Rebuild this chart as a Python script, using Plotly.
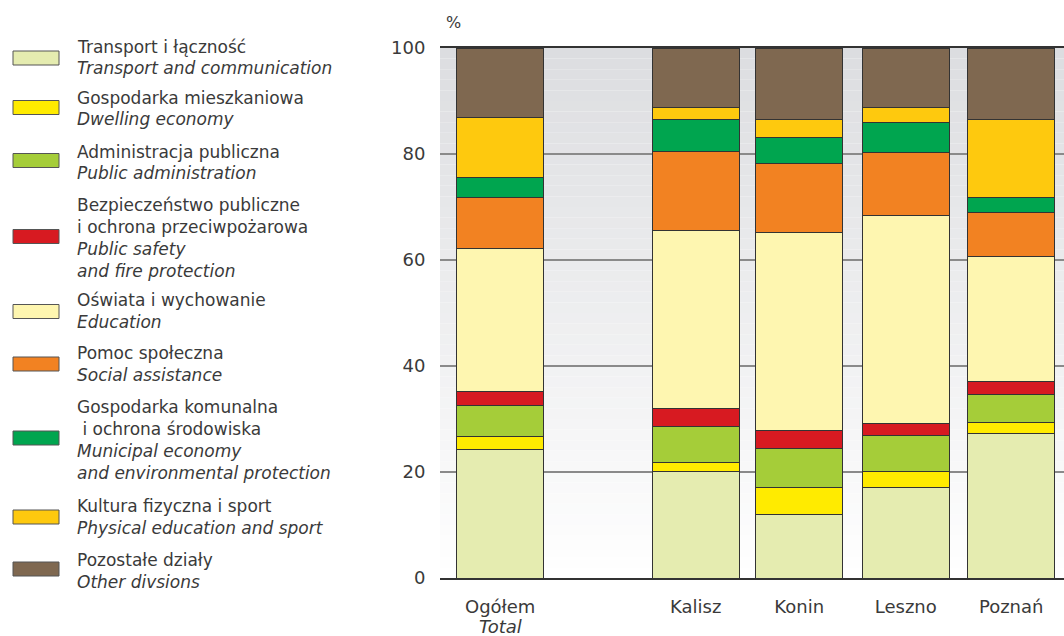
import plotly.graph_objects as go

# ---------------- data ----------------
categories = ["Ogółem", "Kalisz", "Konin", "Leszno", "Poznań"]
total_en = "Total"

series_pl = [
    "Transport i łączność",
    "Gospodarka mieszkaniowa",
    "Administracja publiczna",
    "Bezpieczeństwo publiczne<br>i ochrona przeciwpożarowa",
    "Oświata i wychowanie",
    "Pomoc społeczna",
    "Gospodarka komunalna<br> i ochrona środowiska",
    "Kultura fizyczna i sport",
    "Pozostałe działy",
]
series_en = [
    "Transport and communication",
    "Dwelling economy",
    "Public administration",
    "Public safety<br>and fire protection",
    "Education",
    "Social assistance",
    "Municipal economy<br>and environmental protection",
    "Physical education and sport",
    "Other divsions",
]

transport = [24.2, 20.1, 12.0, 17.0, 27.2]
dwelling = [2.5, 1.7, 5.0, 3.1, 2.2]
administration = [5.8, 6.8, 7.4, 6.7, 5.2]
safety = [2.6, 3.4, 3.5, 2.4, 2.4]
education = [27.0, 33.5, 37.3, 39.2, 23.6]
social = [9.7, 15.0, 13.0, 11.9, 8.3]
municipal = [3.7, 6.0, 5.0, 5.6, 2.9]
sport = [11.4, 2.2, 3.4, 2.9, 14.7]
other = [13.1, 11.3, 13.4, 11.2, 13.5]

y_ticks = [0, 20, 40, 60, 80, 100]

# ---------------- styling ----------------
values = [transport, dwelling, administration, safety, education, social, municipal, sport, other]
colors = ["#e5ecb0", "#ffeb00", "#a5cd39", "#d71a21", "#fef6b0",
          "#f28222", "#00a54f", "#fec90e", "#7f6850"]

x_pos = [0, 1.862, 2.848, 3.863, 4.867]
bar_w = 0.83
FONT = "DejaVu Sans"
TXT = "#3a3a3a"

W, H = 1064, 636
ML, MR, MT, MB = 440, 0, 48, 58
PW, PH = W - ML - MR, H - MT - MB


def px_x(px):
    return (px - ML) / PW


def px_y(py):
    return (H - MB - py) / PH


fig = go.Figure()
for i, vals in enumerate(values):
    fig.add_trace(go.Bar(
        x=x_pos, y=vals, width=bar_w,
        name=series_pl[i],
        marker=dict(color=colors[i], line=dict(color="#333333", width=1)),
        showlegend=False,
        hovertemplate="%{y}<extra></extra>",
    ))

shapes = []
# vertical gradient background (light grey at top to white at bottom)
n_strips = 50
top = (220, 221, 224)
for k in range(n_strips):
    t = (k + 0.5) / n_strips
    r = round(255 + (top[0] - 255) * t)
    g = round(255 + (top[1] - 255) * t)
    b = round(255 + (top[2] - 255) * t)
    shapes.append(dict(type="rect", xref="paper", yref="y", x0=0, x1=1,
                       y0=100 * k / n_strips, y1=100 * (k + 1) / n_strips,
                       fillcolor=f"rgb({r},{g},{b})", line=dict(width=0),
                       layer="below"))

# custom legend
legend_rect_y = [58, 107.5, 160.5, 236.5, 311.5, 364, 438, 517, 569]
legend_lines_y = [
    [46.5, 67.5], [98, 118.5], [151.5, 172.5], [205, 227, 249, 270.5],
    [299.5, 322], [353, 375], [407, 429, 451, 473], [506, 528], [560, 582],
]
annotations = []
for i in range(len(series_pl)):
    cy = legend_rect_y[i]
    shapes.append(dict(type="rect", xref="paper", yref="paper",
                       x0=px_x(13), x1=px_x(59), y0=px_y(cy - 7), y1=px_y(cy + 7),
                       fillcolor=colors[i], line=dict(color="#555555", width=1)))
    lines = [(s, False) for s in series_pl[i].split("<br>")] + \
            [(s, True) for s in series_en[i].split("<br>")]
    for (txt, ital), ly in zip(lines, legend_lines_y[i]):
        annotations.append(dict(
            xref="paper", yref="paper", x=px_x(75), y=px_y(ly),
            xanchor="left", yanchor="middle", showarrow=False,
            text=f"<i>{txt}</i>" if ital else txt,
            font=dict(family=FONT, size=17, color=TXT)))

annotations.append(dict(xref="paper", yref="paper", x=px_x(453), y=px_y(22),
                        xanchor="center", yanchor="middle", showarrow=False,
                        text="%", font=dict(family=FONT, size=16, color=TXT)))
# English subtitle under the "Ogółem" category label
annotations.append(dict(xref="x", yref="paper", x=x_pos[0], y=px_y(626),
                        xanchor="center", yanchor="middle", showarrow=False,
                        text=f"<i>{total_en}</i>",
                        font=dict(family=FONT, size=18, color=TXT)))

fig.update_layout(
    width=W, height=H,
    margin=dict(l=ML, r=MR, t=MT, b=MB),
    paper_bgcolor="white", plot_bgcolor="white",
    barmode="stack",
    shapes=shapes, annotations=annotations,
    font=dict(family=FONT, color=TXT),
    xaxis=dict(range=[-0.573, 5.37], tickvals=x_pos, ticktext=categories,
               showgrid=False, zeroline=False, automargin=False,
               showline=True, mirror=True, linecolor="#333333", linewidth=1.5,
               ticks="outside", ticklen=12, tickcolor="rgba(0,0,0,0)",
               tickfont=dict(family=FONT, size=18, color=TXT)),
    yaxis=dict(range=[0, 100], tickvals=y_ticks, automargin=False,
               showgrid=True, gridcolor="#8a8a8a", gridwidth=1.5,
               zeroline=False, showline=False,
               ticks="outside", ticklen=10, tickcolor="rgba(0,0,0,0)",
               tickfont=dict(family=FONT, size=18, color=TXT)),
)

fig.write_html("out.html", post_script="document.body.style.margin='0';",
               config={"displayModeBar": False})
